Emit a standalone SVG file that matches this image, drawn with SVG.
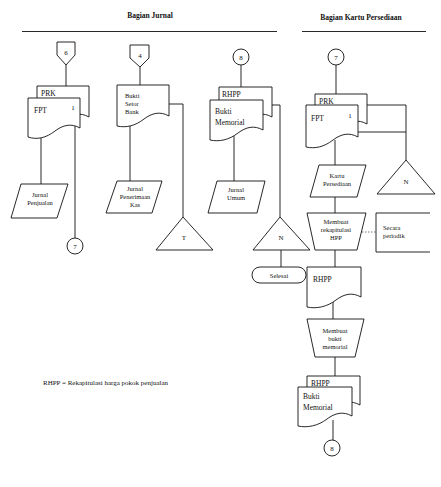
<svg xmlns="http://www.w3.org/2000/svg" width="441" height="487" viewBox="0 0 441 487">
<style>
.s{fill:#fff;stroke:#111;stroke-width:0.9}
.l{fill:none;stroke:#111;stroke-width:0.9}
.d{fill:none;stroke:#555;stroke-width:0.8;stroke-dasharray:1.5 1.5}
text{font-family:"Liberation Serif","Times New Roman",serif;fill:#111}
.h{font-size:7.5px;font-weight:bold;text-anchor:middle}
.t{font-size:7.5px}
.m{font-size:6.5px;text-anchor:middle}
.ms{font-size:6.5px;text-anchor:start}
.c{font-size:7px;text-anchor:middle}
.n{font-size:7px;text-anchor:start}
</style>
<rect width="441" height="487" fill="#fff"/>
<g id="headers">
<text class="h" x="150" y="18">Bagian Jurnal</text>
<line class="l" x1="22" y1="31.5" x2="277" y2="31.5" stroke-width="1.3"/>
<text class="h" x="361" y="20">Bagian Kartu Persediaan</text>
<line class="l" x1="302" y1="31.5" x2="426" y2="31.5" stroke-width="1.3"/>
</g>
<g id="connectors">
<path class="l" d="M66,65V86"/>
<path class="l" d="M41,130V184"/>
<path class="l" d="M75,125V238"/>
<path class="l" d="M140,67V85"/>
<path class="l" d="M130,120V181"/>
<path class="l" d="M169,104H183V217"/>
<path class="l" d="M241,65V87"/>
<path class="l" d="M234,130V181"/>
<path class="l" d="M272,105H280V217"/>
<path class="l" d="M281,250V267"/>
<path class="l" d="M336,65V94"/>
<path class="l" d="M367,105H406V160"/>
<path class="l" d="M358,132H406"/>
<path class="l" d="M335,140V165"/>
<path class="l" d="M335,197V213"/>
<path class="d" d="M362,232H376"/>
<path class="l" d="M335,250V267"/>
<path class="l" d="M333,300V319"/>
<path class="l" d="M335,357V376"/>
<path class="l" d="M333,420V440"/>
</g>
<g id="off6">
<path class="s" d="M57,42H75V55L66,65L57,55Z"/>
<text class="c" x="66" y="55">6</text>
</g>
<g id="docPRK1">
<path class="s" d="M37,86H89V117C80,112 72,114 64,120C55,127 46,129 37,127Z"/>
<text class="t" x="41" y="96">PRK</text>
</g>
<g id="docFPT1">
<path class="s" d="M28,98H80V128C71,123 63,125 55,131C46,138 37,140 28,137Z"/>
<text class="t" x="34" y="113">FPT</text>
<text class="c" x="73" y="110">1</text>
</g>
<g id="jurnalPenjualan">
<path class="s" d="M21,184H68L57,218H11Z"/>
<text class="m" x="40" y="197">Jurnal</text>
<text class="m" x="40" y="205">Penjualan</text>
</g>
<g id="conn7a">
<circle class="s" cx="75" cy="246" r="8"/>
<text class="c" x="75" y="249">7</text>
</g>
<g id="off4">
<path class="s" d="M130,45H149V58L140,67L130,58Z"/>
<text class="c" x="140" y="58">4</text>
</g>
<g id="docBuktiSetor">
<path class="s" d="M117,85H169V116C160,111 152,113 144,119C135,126 126,128 117,126Z"/>
<text class="ms" x="125" y="98">Bukti</text>
<text class="ms" x="125" y="106">Setor</text>
<text class="ms" x="125" y="114">Bank</text>
</g>
<g id="jurnalPenerimaan">
<path class="s" d="M117,181H162L152,213H106Z"/>
<text class="m" x="135" y="191">Jurnal</text>
<text class="m" x="135" y="199">Penerimaan</text>
<text class="m" x="135" y="207">Kas</text>
</g>
<g id="triT">
<path class="s" d="M183,217L213,250H156Z"/>
<text class="c" x="184" y="240">T</text>
</g>
<g id="conn8a">
<circle class="s" cx="241" cy="57" r="8"/>
<text class="c" x="241" y="60">8</text>
</g>
<g id="docRHPP1">
<path class="s" d="M219,87H272V117C263,112 255,114 247,120C238,127 228,129 219,127Z"/>
<text class="t" x="222" y="97">RHPP</text>
</g>
<g id="docBuktiMemorial1">
<path class="s" d="M210,100H263V130C254,125 246,127 238,133C229,140 219,142 210,140Z"/>
<text class="t" x="215" y="114">Bukti</text>
<text class="t" x="215" y="125">Memorial</text>
</g>
<g id="jurnalUmum">
<path class="s" d="M217,181H265L257,213H208Z"/>
<text class="m" x="236" y="192">Jurnal</text>
<text class="m" x="236" y="200">Umum</text>
</g>
<g id="triN1">
<path class="s" d="M280,217L310,250H253Z"/>
<text class="c" x="281" y="240">N</text>
</g>
<g id="selesai">
<rect class="s" x="252" y="267" width="54" height="16" rx="8"/>
<text class="m" x="279" y="278">Selesai</text>
</g>
<g id="conn7b">
<circle class="s" cx="336" cy="57" r="8"/>
<text class="c" x="336" y="60">7</text>
</g>
<g id="docPRK2">
<path class="s" d="M315,94H367V124C358,119 350,121 342,127C333,134 324,136 315,134Z"/>
<text class="t" x="319" y="104">PRK</text>
</g>
<g id="docFPT2">
<path class="s" d="M306,105H358V137C349,132 341,134 333,140C324,147 315,149 306,147Z"/>
<text class="t" x="311" y="121">FPT</text>
<text class="c" x="350" y="118">1</text>
</g>
<g id="triN2">
<path class="s" d="M406,160L435,194H377Z"/>
<text class="c" x="406" y="184">N</text>
</g>
<g id="kartuPersediaan">
<path class="s" d="M319,165H366L357,197H310Z"/>
<text class="m" x="337" y="178">Kartu</text>
<text class="m" x="337" y="186">Persediaan</text>
</g>
<g id="membuatRekap">
<path class="s" d="M307,213H366L357,250H315Z"/>
<text class="m" x="336" y="224">Membuat</text>
<text class="m" x="336" y="232">rekapitulasi</text>
<text class="m" x="336" y="240">HPP</text>
</g>
<g id="secaraPeriodik">
<path class="l" d="M430,213H376V252H430"/>
<text class="ms" x="383" y="230">Secara</text>
<text class="ms" x="383" y="238">periodik</text>
</g>
<g id="docRHPP2">
<path class="s" d="M307,267H361V297C352,292 344,294 336,300C327,307 316,309 307,307Z"/>
<text class="t" x="313" y="282">RHPP</text>
</g>
<g id="membuatBukti">
<path class="s" d="M307,319H364L355,357H315Z"/>
<text class="m" x="335" y="333">Membuat</text>
<text class="m" x="335" y="341">bukti</text>
<text class="m" x="335" y="349">memorial</text>
</g>
<g id="docRHPP3">
<path class="s" d="M307,376H360V405C351,400 343,402 335,408C326,415 316,417 307,415Z"/>
<text class="t" x="311" y="386">RHPP</text>
</g>
<g id="docBuktiMemorial2">
<path class="s" d="M298,387H352V416C343,411 335,413 327,419C318,426 307,428 298,426Z"/>
<text class="t" x="303" y="399">Bukti</text>
<text class="t" x="303" y="410">Memorial</text>
</g>
<g id="conn8b">
<circle class="s" cx="332" cy="448" r="8"/>
<text class="c" x="332" y="451">8</text>
</g>
<g id="note">
<text class="n" x="43" y="385">RHPP = Rekapitulasi harga pokok penjualan</text>
</g>
</svg>
